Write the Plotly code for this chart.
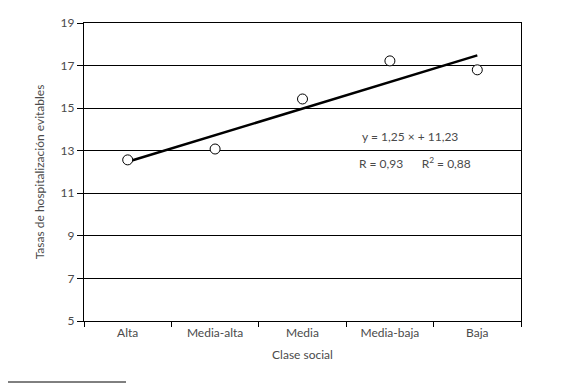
import plotly.graph_objects as go

categories = ["Alta", "Media-alta", "Media", "Media-baja", "Baja"]
tasas = [12.57, 13.08, 15.43, 17.22, 16.8]
slope = 1.25
intercept = 11.23
y_ticks = [5, 7, 9, 11, 13, 15, 17, 19]

trend = [slope * (i + 1) + intercept for i in range(len(categories))]

FONT = "Lato"
TXT = "#4a4a4a"

fig = go.Figure()
fig.add_trace(go.Scatter(x=categories, y=trend, mode="lines",
                         line=dict(color="black", width=2.5), showlegend=False))
fig.add_trace(go.Scatter(x=categories, y=tasas, mode="markers",
                         marker=dict(symbol="circle", size=10, color="white",
                                     line=dict(color="black", width=1)),
                         showlegend=False))

fnt = dict(family=FONT, size=12, color=TXT)

fig.update_layout(
    width=566, height=389,
    margin=dict(l=84, r=45, t=23, b=68),
    paper_bgcolor="white", plot_bgcolor="white",
    font=fnt,
    xaxis=dict(
        type="category", range=[-0.5, len(categories) - 0.5],
        tickson="boundaries", ticks="outside", ticklen=5,
        tickcolor="black", showline=True, linecolor="black", linewidth=1.2,
        mirror=True, showgrid=False, tickfont=fnt,
        title=dict(text="Clase social", font=fnt, standoff=12),
    ),
    yaxis=dict(
        range=[5, 19], tickvals=y_ticks, ticks="outside", ticklen=6,
        tickcolor="black", showline=True, linecolor="black", linewidth=1.2,
        mirror=True, showgrid=True, gridcolor="black", gridwidth=1,
        zeroline=False, tickfont=fnt,
        title=dict(text="Tasas de hospitalización evitables",
                   font=fnt, standoff=13),
    ),
    annotations=[
        dict(text="y = 1,25 × + 11,23", xref="paper", yref="paper",
             x=(410 - 84) / 437, y=(321 - 136) / 298, showarrow=False,
             xanchor="center", yanchor="middle", font=fnt),
        dict(text="R = 0,93      R<sup>2</sup> = 0,88", xref="paper", yref="paper",
             x=(357 - 84) / 437, y=(321 - 163) / 298, showarrow=False,
             xanchor="left", yanchor="middle", font=fnt),
    ],
    shapes=[
        dict(type="line", xref="paper", yref="paper",
             x0=(8 - 84) / 437, x1=(126 - 84) / 437,
             y0=(321 - 382) / 298, y1=(321 - 382) / 298,
             line=dict(color="black", width=1)),
    ],
)

fig.write_html("out.html", config={"displayModeBar": False},
               post_script="document.body.style.margin='0';document.body.style.padding='0';")
